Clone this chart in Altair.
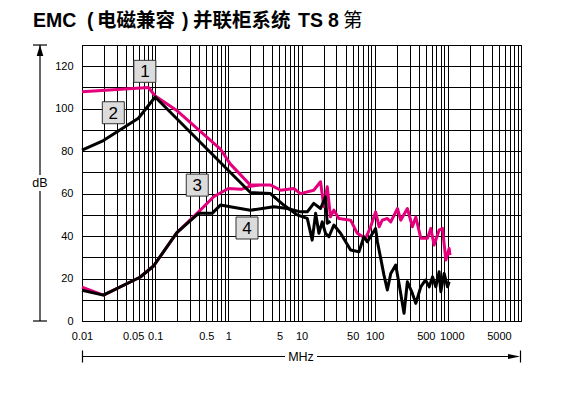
import altair as alt
import pandas as pd

# ---- data (frequency in MHz, level in dB) ----
f1 = [0.01, 0.081, 0.1, 0.2, 0.78, 1.06, 2.0, 3.8, 5.2, 7.85, 9.69, 14.7, 18.2, 20.2, 22.5,
      24.9, 27.7, 32.4, 46.9, 57.9, 75.3, 88.1, 103, 115, 127, 149, 166, 205, 227, 280, 328,
      365, 427, 527, 585, 649, 760, 846, 939, 1042, 1070]
db1 = [108, 110, 106, 99, 81, 74, 64, 64, 61.6, 62.4, 60, 61.6, 65.6, 53.8, 63.2,
       49.1, 52.2, 48.3, 47.5, 41.3, 38.9, 44.4, 51.4, 44.4, 47.5, 48.3, 46.7, 53, 47.5, 53, 44.4,
       49, 39, 39, 43.6, 35.8, 42.8, 43.6, 28.7, 34.2, 31]

f2 = [0.01, 0.0196, 0.059, 0.1, 2.0, 3.76, 5.72, 8.73, 12.0, 14.0, 15.6, 17.3, 19.2, 21.3,
      23.7, 27.7, 34.2, 46.9, 61.0, 71.3, 79.4, 103, 109, 121, 134, 149, 166, 194, 215, 252,
      280, 328, 365, 427, 494, 557, 617, 685, 760, 802, 890, 991, 1042]
db2 = [80.5, 85, 95.5, 105.5, 60.5, 60, 54.6, 50, 48.3, 38.1, 50.7, 41.3, 46.7, 41.3,
       39.7, 45.2, 41.3, 33.4, 32.6, 39.7, 37.3, 43.6, 37.3, 29.5, 21.6, 14.6, 22.4, 26.4, 17.7, 3.6,
       18.5, 13, 8.3, 16.1, 19.3, 16.1, 20.8, 16.1, 23.2, 13.8, 22.4, 16.1, 18.5]

f3 = [0.01, 0.0196, 0.062, 0.095, 0.198, 0.392, 0.63, 1.0, 1.5, 2.0, 2.6]
db3 = [16, 12.2, 20.6, 25.9, 41.6, 51.4, 58.5, 62.4, 62, 63.5, 64]

f4 = [0.01, 0.0196, 0.062, 0.095, 0.198, 0.392, 0.6, 0.78, 1.06, 2.0, 4.2, 6.4, 9.69, 12.0,
      14.7, 18.2, 21.3, 22.5, 24.9]
db4 = [14.5, 12.2, 20.6, 25.9, 41.6, 50.7, 50.7, 54.6, 53.8, 52.2, 53.8, 53, 51.4, 51.4,
       55.4, 53, 58.5, 46, 47]

box_labels = ["1", "2", "3", "4"]
box_f = [0.0723, 0.0268, 0.376, 1.80]
box_db = [117.6, 98.1, 64, 43.8]

x_grid = [float(f"{m}e{e}") for e in range(-2, 4) for m in range(1, 10)] + [10000.0]
x_labels = [0.01, 0.05, 0.1, 0.5, 1, 5, 10, 50, 100, 500, 1000, 5000]
y_grid = list(range(0, 131, 10))

# title pieces and their left offsets (px, relative to plot left edge)
title_parts = ["EMC", "(", "电磁兼容", ")", "并联柜系统", "TS", "8", "第"]
title_dx = [-49, 5, 15, 100, 111, 216, 246, 261]
title_bold = [True, True, True, True, True, True, True, False]

PINK = "#e4007c"
FONT = "Liberation Sans, Arial, Noto Sans CJK SC"


def frame(f, d, name):
    return pd.DataFrame({"f": f, "db": d, "s": name, "i": range(len(f))})


pink_df = pd.concat([frame(f1, db1, "1"), frame(f3, db3, "3")])
black_df = pd.concat([frame(f2, db2, "2"), frame(f4, db4, "4")])
box_df = pd.DataFrame({"f": box_f, "db": box_db, "t": box_labels})

label_list = ",".join(str(v) for v in x_labels)
x_axis = alt.Axis(values=x_grid, format="~g",
                  labelExpr=f"indexof([{label_list}], datum.value) >= 0 ? datum.label : ''",
                  labelOffset={"condition": {"test": "datum.value == 1000", "value": 4}, "value": 0},
                  grid=True, gridColor="black", gridWidth=1, gridOpacity=1,
                  tickSize=0, domainColor="black", domainWidth=1,
                  labelFont=FONT, labelFontSize=11, labelColor="black",
                  labelPadding=9, labelOverlap=False, labelFlush=False, title=None)
y_axis = alt.Axis(values=y_grid,
                  labelExpr="datum.value % 20 == 0 && datum.value < 130 ? datum.label : ''",
                  grid=True, gridColor="black", gridWidth=1, gridOpacity=1,
                  tickSize=0, domainColor="black", domainWidth=1,
                  labelFont=FONT, labelFontSize=11, labelColor="black",
                  labelPadding=9, labelOverlap=False, labelFlush=False, title=None)

xs = alt.Scale(type="log", domain=[0.01, 10000])
ys = alt.Scale(domain=[0, 130], nice=False)
X = alt.X("f:Q", scale=xs, axis=x_axis)
Y = alt.Y("db:Q", scale=ys, axis=y_axis)

pink = alt.Chart(pink_df).mark_line(color=PINK, strokeWidth=3, strokeJoin="round").encode(
    x=X, y=Y, detail="s:N", order="i:Q")
black = alt.Chart(black_df).mark_line(color="black", strokeWidth=3, strokeJoin="round").encode(
    x=X, y=Y, detail="s:N", order="i:Q")

boxes = alt.Chart(box_df).mark_square(size=484, filled=True, fill="#dcdcdc", stroke="#333333",
                                      strokeWidth=1, opacity=1).encode(x=X, y=Y)
box_text = alt.Chart(box_df).mark_text(font=FONT, fontSize=17, color="black",
                                       baseline="middle", align="center", dy=1).encode(
    x=X, y=Y, text="t:N")

one = alt.Data(values=[{}])

# decorations: dB arrow on the left
db_rules = alt.layer(
    alt.Chart(one).mark_rule(color="black", strokeWidth=1.2).encode(
        x=alt.value(-42), y=alt.value(0), y2=alt.value(130)),
    alt.Chart(one).mark_rule(color="black", strokeWidth=1.2).encode(
        x=alt.value(-42), y=alt.value(146), y2=alt.value(276)),
    alt.Chart(one).mark_rule(color="black", strokeWidth=1.2).encode(
        x=alt.value(-49), x2=alt.value(-35), y=alt.value(0)),
    alt.Chart(one).mark_rule(color="black", strokeWidth=1.2).encode(
        x=alt.value(-49), x2=alt.value(-35), y=alt.value(276)),
    alt.Chart(one).mark_point(shape="M0,-1L0.6,1L-0.6,1Z", size=121, filled=True,
                              color="black", opacity=1).encode(
        x=alt.value(-42), y=alt.value(5.5)),
    alt.Chart(one).mark_text(text="dB", font=FONT, fontSize=12.5, color="black",
                             baseline="middle", align="center").encode(
        x=alt.value(-42), y=alt.value(138)),
)

# MHz arrow at the bottom
mhz_rules = alt.layer(
    alt.Chart(one).mark_rule(color="black", strokeWidth=1.2).encode(
        x=alt.value(0), x2=alt.value(203), y=alt.value(311.5)),
    alt.Chart(one).mark_rule(color="black", strokeWidth=1.2).encode(
        x=alt.value(235), x2=alt.value(432), y=alt.value(311.5)),
    alt.Chart(one).mark_rule(color="black", strokeWidth=1.2).encode(
        x=alt.value(0.5), y=alt.value(305.5), y2=alt.value(317.5)),
    alt.Chart(one).mark_rule(color="black", strokeWidth=1.2).encode(
        x=alt.value(438.5), y=alt.value(305.5), y2=alt.value(317.5)),
    alt.Chart(one).mark_point(shape="M1,0L-1,-0.4L-1,0.4Z", size=144, filled=True,
                              color="black", opacity=1).encode(
        x=alt.value(432), y=alt.value(311.5)),
    alt.Chart(one).mark_text(text="MHz", font=FONT, fontSize=12.5, color="black",
                             baseline="middle", align="center").encode(
        x=alt.value(219), y=alt.value(311.5)),
)

title_layers = []
for txt, dx, bold in zip(title_parts, title_dx, title_bold):
    title_layers.append(
        alt.Chart(one).mark_text(text=txt, font=FONT, fontSize=19.5,
                                 fontWeight="bold" if bold else "normal",
                                 color="black", align="left", baseline="alphabetic").encode(
            x=alt.value(dx), y=alt.value(-18)))
title = alt.layer(*title_layers)

chart = alt.layer(pink, black, boxes, box_text, db_rules, mhz_rules, title).properties(
    width=439, height=276,
    autosize=alt.AutoSizeParams(type="none"),
    padding={"left": 74, "top": 37, "right": 40, "bottom": 60},
).configure_view(stroke="black", strokeWidth=1)

chart.save("out.html", embed_options={"renderer": "svg", "actions": False})
